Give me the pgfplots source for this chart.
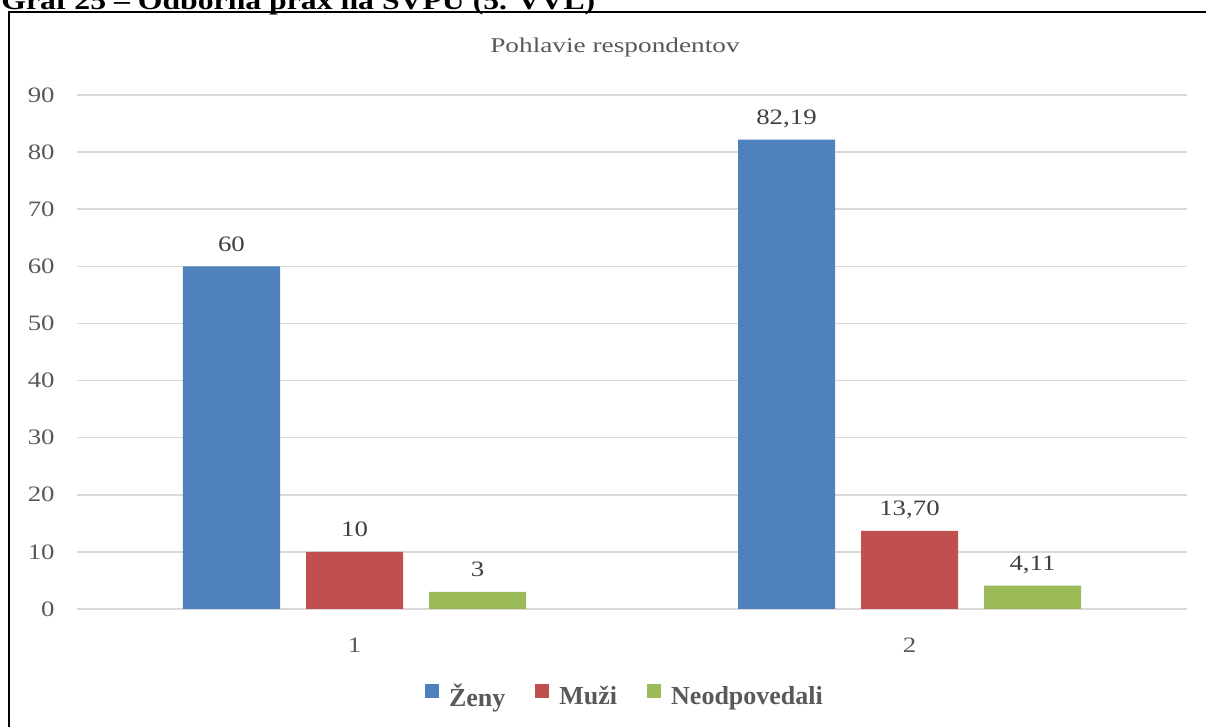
\documentclass[border=0pt]{standalone}
\usepackage{fontspec}
\setmainfont{Liberation Serif}
\newfontfamily\chartfont{Liberation Serif}[FakeStretch=1.22]
\newfontfamily\titlefont{Liberation Serif}[FakeStretch=1.3]
\newfontfamily\headfont{Liberation Serif}[FakeStretch=1.22]
\usepackage{pgfplots}
\pgfplotsset{compat=1.18}

\definecolor{cBlue}{HTML}{4F81BD}
\definecolor{cRed}{HTML}{C0504D}
\definecolor{cGreen}{HTML}{9BBB59}
\definecolor{gridgray}{HTML}{D9D9D9}
\definecolor{labgray}{HTML}{595959}
\definecolor{datagray}{HTML}{404040}

\begin{document}
\begin{tikzpicture}
\useasboundingbox (0,0) rectangle (603pt,363.5pt);
\clip (0,0) rectangle (603pt,363.5pt);
% caption line, cut off at the top of the picture
\node[anchor=base west, inner sep=0pt, font=\headfont\bfseries\fontsize{13}{15}\selectfont]
  at (0.5pt,358.7pt) {Graf 25 – Odborná prax na SVPU (5. VVL)};
\draw[line width=1pt] (4.5pt,-10pt) -- (4.5pt,357.5pt) -- (620pt,357.5pt);
\node[anchor=base, inner sep=0pt, text=labgray, font=\titlefont\fontsize{10.5}{12}\selectfont]
  at (307.5pt,337pt) {Pohlavie respondentov};
\begin{axis}[
    at={(38.5pt,59pt)}, anchor=south west,
    scale only axis,
    width=555pt, height=257pt,
    xmin=0.5, xmax=2.5, ymin=0, ymax=90,
    xtick={1,2}, ytick={0,10,...,90},
    ybar=13pt, bar width=48.5pt,
    axis line style={draw=none},
    major tick length=0pt,
    ymajorgrids=true,
    grid style={color=gridgray, line width=0.75pt},
    /pgf/number format/assume math mode=true,
    tick label style={font=\chartfont\fontsize{11}{13}\selectfont, text=labgray},
    yticklabel style={anchor=east, inner sep=0pt, xshift=-11pt},
    xticklabel style={anchor=base, inner sep=0pt, yshift=-21.75pt},
    nodes near coords,
    point meta=explicit symbolic,
    every node near coord/.append style={font=\chartfont\fontsize{11}{13}\selectfont,
        text=datagray, anchor=base, inner sep=0pt, yshift=7.5pt},
    legend columns=-1,
    legend image code/.code={\fill[#1] (0pt,-0.5pt) rectangle (7pt,6.5pt);},
    legend style={at={(0.4946,-0.171)}, anchor=center, draw=none, fill=none,
        font=\bfseries\fontsize{13}{15}\selectfont, text=labgray,
        /tikz/every odd column/.append style={column sep=3pt},
        /tikz/every even column/.append style={column sep=13pt}},
]
\addplot[fill=cBlue, draw=none] coordinates {(1,60) [60] (2,82.19) [82,19]};
\addplot[fill=cRed, draw=none] coordinates {(1,10) [10] (2,13.70) [13,70]};
\addplot[fill=cGreen, draw=none] coordinates {(1,3) [3] (2,4.11) [4,11]};
\legend{Ženy, Muži, Neodpovedali}
\end{axis}
\end{tikzpicture}
\end{document}
